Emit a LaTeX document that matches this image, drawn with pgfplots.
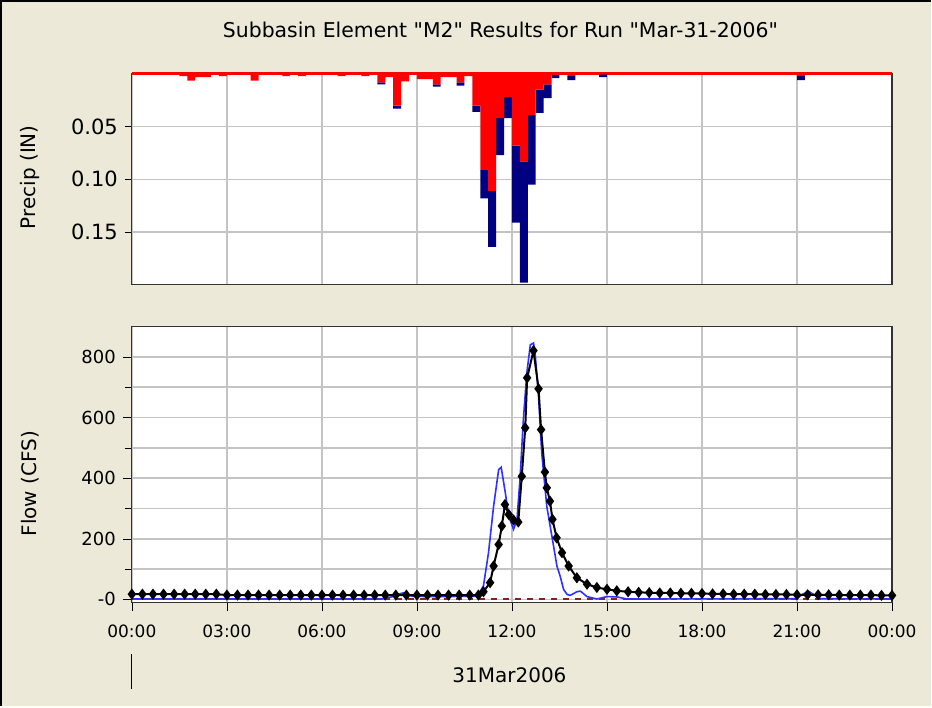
\documentclass[border=0pt]{standalone}
\usepackage{fontspec}
\setmainfont{DejaVu Sans}[Ligatures=TeXOff]
\usepackage{pgfplots}
\pgfplotsset{compat=1.18}
\usepackage{pgfplotstable}

\definecolor{bgxp}{HTML}{ECE9D8}
\definecolor{gridgray}{HTML}{C4C4C4}
\definecolor{excessred}{HTML}{FF0000}
\definecolor{lossblue}{HTML}{000080}
\definecolor{flowblue}{HTML}{3030FF}
\definecolor{baseflow}{HTML}{8B2020}

% 15-minute precipitation: bar centre (h), excess, loss (IN)
\pgfplotstableread{
x      ex      loss
1.625  0.002   0
1.875  0.0064  0
2.125  0.003   0
2.375  0.003   0
2.875  0.002   0
3.875  0.0064  0
4.875  0.002   0
5.375  0.002   0
6.625  0.002   0
7.375  0.002   0
7.875  0.008   0.002
8.125  0.003   0
8.375  0.030   0.003
8.625  0.007   0
9.125  0.005   0
9.375  0.005   0
9.625  0.010   0.002
9.875  0.003   0
10.125 0.003   0
10.375 0.008   0.003
10.625 0.002   0
10.875 0.030   0.006
11.125 0.091   0.027
11.375 0.111   0.053
11.625 0.042   0.035
11.875 0.022   0.020
12.125 0.068   0.073
12.375 0.083   0.115
12.625 0.039   0.066
12.875 0.015   0.022
13.125 0.010   0.013
13.375 0.001   0.003
13.875 0.002   0.004
14.875 0.0005  0.0025
21.125 0.002   0.004
}\precip

\pgfplotsset{
  hmsaxis/.style={
    scale only axis, anchor=south west,
    width=380.5pt,
    xmin=0, xmax=24,
    xtick={0,3,...,24},
    axis background/.style={fill=white},
    grid style={gridgray, line width=0.8pt},
    tick align=outside,
    ytick pos=left,
    major tick length=3.5pt, minor tick length=3.5pt,
    axis line style={black!80, line width=0.6pt},
    tick style={black},
    tick label style={font=\fontsize{8.5}{10}\selectfont},
    label style={font=\fontsize{10}{12}\selectfont},
    /pgf/number format/assume math mode=true,
  }
}

\begin{document}
\begin{tikzpicture}
\fill[bgxp] (0pt,0pt) rectangle (466pt,353.5pt);
\draw[black, line width=1pt] (0.5pt,0pt) -- (0.5pt,353pt) -- (466pt,353pt);
\node[font=\fontsize{10.2}{12}\selectfont] at (250.5pt,338.5pt) {Subbasin Element "M2" Results for Run "Mar-31-2006"};

% precipitation panel
\begin{axis}[hmsaxis,
  at={(66pt,211pt)}, height=105.5pt,
  ymin=0, ymax=0.2, y dir=reverse,
  ytick={0.05,0.10,0.15},
  yticklabel style={font=\fontsize{10.5}{12}\selectfont,
    /pgf/number format/.cd, fixed, fixed zerofill, precision=2},
  xticklabels={}, xtick style={draw=none},
  grid=major,
  ybar stacked, bar width=0.25,
  clip=false,
  ylabel={Precip (IN)},
  ylabel style={at={(axis description cs:-0.134,0.51)}, anchor=center},
]
\addplot[fill=excessred, draw=none] table[x=x, y=ex] {\precip};
\addplot[fill=lossblue, draw=none] table[x=x, y=loss] {\precip};
\addplot[excessred, line width=1.5pt, sharp plot, stack plots=false] coordinates {(0,0) (24,0)};
\end{axis}

% flow panel
\begin{axis}[hmsaxis,
  at={(66pt,52pt)}, height=138pt,
  ymin=-10, ymax=900,
  ytick={0,200,...,800},
  yticklabels={-0,200,400,600,800},
  yticklabel style={font=\fontsize{9}{11}\selectfont},
  minor ytick={100,300,500,700},
  grid=both, minor grid style={gridgray, line width=0.8pt},
  xtick pos=bottom,
  xticklabels={00:00,03:00,06:00,09:00,12:00,15:00,18:00,21:00,00:00},
  xticklabel style={yshift=-3pt},
  major tick length=4.5pt,
  ylabel={Flow (CFS)},
  ylabel style={at={(axis description cs:-0.134,0.43)}, anchor=center},
]
\addplot[baseflow, dashed, line width=1pt] coordinates {(0,0) (24,0)};
\addplot[flowblue, line width=0.8pt] coordinates {
(0,1)(7.9,1)(8.2,8)(8.45,18)(8.6,22)(8.85,10)(9.5,9)(10.9,10)(11.1,44)
(11.26,154)(11.42,307)(11.58,428)(11.66,436)(11.79,352)(11.9,275)(12.05,231)
(12.16,264)(12.26,406)(12.36,593)(12.47,747)(12.58,840)(12.68,846)(12.73,814)
(12.84,670)(12.94,483)(13.1,307)(13.26,209)(13.42,110)(13.52,77)(13.63,33)
(13.74,16)(13.84,13)(14.05,25)(14.16,27)(14.37,9)(14.68,1)(15.0,9)(15.31,8)
(15.63,1)(21.0,2)(21.15,15)(21.36,27)(21.73,2)(24,1)};
\addplot[black, line width=1pt, mark=diamond*, mark size=2pt] coordinates {
(0,17)(0.333,17)(0.667,17)(1,17)(1.333,17)(1.667,17)(2,17)(2.333,17)(2.667,17)
(3,14)(3.333,14)(3.667,14)(4,14)(4.333,14)(4.667,14)(5,14)(5.333,14)(5.667,14)
(6,14)(6.333,14)(6.667,14)(7,14)(7.333,14)(7.667,14)(8,14)(8.333,14)(8.667,14)
(9,14)(9.333,14)(9.667,14)(10,14)(10.333,14)(10.667,14)(10.94,14)
(11.1,25)(11.31,55)(11.42,110)(11.58,181)(11.68,242)(11.78,313)(11.9,280)
(12.05,262)(12.2,255)(12.31,406)(12.42,566)(12.48,731)(12.68,821)(12.84,695)
(12.92,560)(13.04,420)(13.1,368)(13.2,324)(13.28,264)(13.41,203)(13.58,154)
(13.79,110)(14.05,71)(14.37,50)(14.68,39)(15.0,33)(15.31,28)(15.667,25)(16,23)
(16.333,22)(16.667,21)(17,21)(17.333,20)(17.667,20)(18,19)(18.333,18)(18.667,18)
(19,17)(19.333,17)(19.667,17)(20,16)(20.333,16)(20.667,16)(21,15)(21.333,15)
(21.667,15)(22,15)(22.333,14)(22.667,14)(23,14)(23.333,14)(23.667,13)(24,13)};
\end{axis}

\node[font=\fontsize{10}{12}\selectfont] at (255pt,15.5pt) {31Mar2006};
\draw[black, line width=0.6pt] (66pt,26pt) -- (66pt,8.5pt);
\end{tikzpicture}
\end{document}
